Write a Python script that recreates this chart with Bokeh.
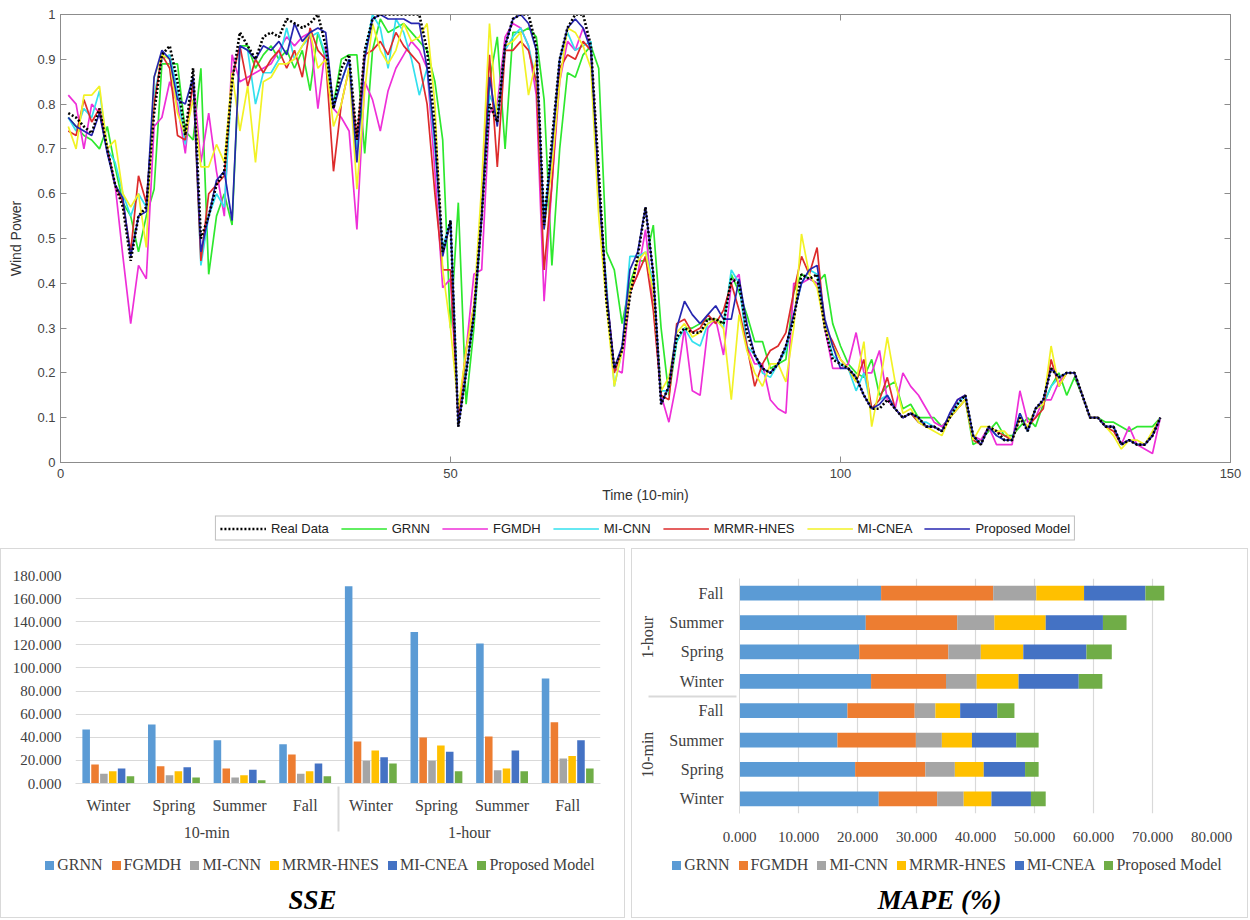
from bokeh.plotting import figure
from bokeh.models import (ColumnDataSource, FactorRange, Legend, LegendItem, LinearAxis, Range1d,
                          FixedTicker, CustomJSTickFormatter, NumeralTickFormatter, Div)
from bokeh.layouts import column, row
from bokeh.embed import file_html
from bokeh.resources import INLINE
from bokeh.transform import dodge

# ---------------- top chart data ----------------
time_idx = list(range(1, 142))

real_data = [
    0.78, 0.77, 0.75, 0.735, 0.79, 0.70, 0.62, 0.57, 0.45, 0.55,
    0.57, 0.78, 0.91, 0.93, 0.85, 0.73, 0.88, 0.50, 0.55, 0.62,
    0.65, 0.85, 0.96, 0.93, 0.90, 0.95, 0.96, 0.95, 0.99, 0.98,
    0.97, 0.98, 1.0, 0.93, 0.79, 0.88, 0.91, 0.72, 0.92, 0.99,
    1.0, 1.0, 1.0, 1.0, 1.0, 1.0, 0.92, 0.75, 0.47, 0.54,
    0.08, 0.20, 0.33, 0.55, 0.80, 0.76, 0.93, 0.99, 1.0, 1.0,
    0.93, 0.53, 0.72, 0.90, 0.97, 1.0, 1.0, 0.93, 0.65, 0.36,
    0.21, 0.25, 0.37, 0.46, 0.57, 0.42, 0.13, 0.17, 0.28, 0.30,
    0.29, 0.29, 0.32, 0.32, 0.31, 0.41, 0.40, 0.29, 0.24, 0.21,
    0.20, 0.22, 0.26, 0.32, 0.42, 0.41, 0.42, 0.30, 0.23, 0.22,
    0.21, 0.19, 0.15, 0.12, 0.12, 0.14, 0.12, 0.10, 0.11, 0.10,
    0.08, 0.08, 0.07, 0.10, 0.13, 0.15, 0.06, 0.04, 0.08, 0.07,
    0.05, 0.05, 0.10, 0.07, 0.12, 0.14, 0.21, 0.19, 0.20, 0.20,
    0.15, 0.10, 0.10, 0.08, 0.08, 0.04, 0.05, 0.04, 0.04, 0.06,
    0.10]

grnn = [
    0.77, 0.75, 0.73, 0.72, 0.70, 0.75, 0.66, 0.58, 0.55, 0.47,
    0.55, 0.61, 0.89, 0.89, 0.89, 0.74, 0.72, 0.88, 0.42, 0.55,
    0.60, 0.53, 0.93, 0.93, 0.88, 0.91, 0.93, 0.90, 0.92, 0.88,
    0.92, 0.83, 0.96, 0.90, 0.80, 0.90, 0.91, 0.91, 0.69, 0.92,
    0.99, 0.96, 0.97, 0.98, 0.96, 0.94, 0.92, 0.85, 0.72, 0.30,
    0.58, 0.13, 0.30, 0.55, 0.85, 0.95, 0.70, 0.96, 0.96, 0.97,
    0.95, 0.81, 0.44, 0.70, 0.87, 0.86, 0.91, 0.93, 0.88, 0.47,
    0.43, 0.31, 0.40, 0.45, 0.45, 0.53, 0.30, 0.15, 0.27, 0.30,
    0.30, 0.31, 0.32, 0.32, 0.31, 0.42, 0.38, 0.33, 0.27, 0.27,
    0.21, 0.22, 0.23, 0.38, 0.42, 0.41, 0.40, 0.42, 0.31, 0.26,
    0.22, 0.20, 0.19, 0.23, 0.15, 0.17, 0.18, 0.12, 0.13, 0.10,
    0.10, 0.10, 0.08, 0.10, 0.12, 0.14, 0.04, 0.05, 0.07, 0.09,
    0.06, 0.06, 0.08, 0.10, 0.08, 0.13, 0.17, 0.20, 0.15, 0.19,
    0.15, 0.10, 0.10, 0.09, 0.09, 0.08, 0.07, 0.08, 0.08, 0.08,
    0.10]

fgmdh = [
    0.82, 0.80, 0.70, 0.80, 0.78, 0.70, 0.62, 0.46, 0.31, 0.44,
    0.41, 0.75, 0.77, 0.85, 0.80, 0.69, 0.86, 0.67, 0.78, 0.65,
    0.55, 0.91, 0.85, 0.86, 0.87, 0.88, 0.89, 0.92, 0.95, 0.93,
    0.95, 0.96, 0.79, 0.93, 0.79, 0.77, 0.74, 0.52, 0.85, 0.81,
    0.74, 0.83, 0.88, 0.91, 0.94, 0.92, 0.88, 0.65, 0.39, 0.41,
    0.10, 0.25, 0.42, 0.43, 0.78, 0.80, 0.95, 0.98, 0.97, 0.93,
    0.82, 0.36, 0.62, 0.85, 0.94, 0.92, 0.97, 0.93, 0.60, 0.38,
    0.21, 0.20, 0.38, 0.42, 0.52, 0.35, 0.15, 0.09, 0.18, 0.30,
    0.16, 0.15, 0.30, 0.32, 0.24, 0.40, 0.42, 0.26, 0.22, 0.22,
    0.14, 0.12, 0.11, 0.40, 0.40, 0.41, 0.40, 0.30, 0.21, 0.21,
    0.22, 0.29, 0.20, 0.20, 0.25, 0.14, 0.12, 0.20, 0.17, 0.15,
    0.12, 0.09, 0.08, 0.10, 0.14, 0.15, 0.06, 0.05, 0.08, 0.04,
    0.04, 0.04, 0.16, 0.09, 0.10, 0.14, 0.14, 0.18, 0.20, 0.20,
    0.15, 0.10, 0.10, 0.08, 0.08, 0.04, 0.08, 0.04, 0.03, 0.02,
    0.10]

mi_cnn = [
    0.77, 0.74, 0.79, 0.77, 0.83, 0.70, 0.67, 0.60, 0.55, 0.60,
    0.57, 0.82, 0.90, 0.91, 0.83, 0.71, 0.86, 0.44, 0.55, 0.60,
    0.57, 0.86, 0.93, 0.92, 0.80, 0.87, 0.87, 0.90, 0.97, 0.90,
    0.93, 0.95, 0.96, 0.91, 0.80, 0.85, 0.90, 0.70, 0.91, 1.0,
    0.97, 0.88, 0.99, 0.96, 0.90, 0.82, 0.88, 0.70, 0.48, 0.54,
    0.09, 0.20, 0.33, 0.55, 0.82, 0.78, 0.92, 0.95, 0.97, 0.93,
    0.85, 0.55, 0.70, 0.90, 0.96, 0.92, 0.93, 0.94, 0.60, 0.40,
    0.17, 0.25, 0.46, 0.46, 0.47, 0.40, 0.16, 0.16, 0.27, 0.30,
    0.27, 0.26, 0.31, 0.32, 0.30, 0.43, 0.40, 0.26, 0.24, 0.20,
    0.19, 0.22, 0.25, 0.33, 0.40, 0.43, 0.42, 0.31, 0.24, 0.22,
    0.21, 0.16, 0.20, 0.12, 0.14, 0.15, 0.12, 0.10, 0.11, 0.09,
    0.09, 0.08, 0.07, 0.10, 0.13, 0.15, 0.06, 0.04, 0.08, 0.06,
    0.05, 0.05, 0.11, 0.07, 0.12, 0.13, 0.17, 0.19, 0.20, 0.20,
    0.15, 0.10, 0.10, 0.08, 0.08, 0.04, 0.05, 0.04, 0.04, 0.06,
    0.10]

mrmr_hnes = [
    0.74, 0.73, 0.81, 0.76, 0.79, 0.70, 0.62, 0.58, 0.47, 0.64,
    0.58, 0.80, 0.91, 0.88, 0.73, 0.72, 0.85, 0.45, 0.60, 0.62,
    0.64, 0.86, 0.93, 0.84, 0.90, 0.87, 0.90, 0.92, 0.88, 0.92,
    0.86, 0.97, 0.92, 0.90, 0.65, 0.80, 0.88, 0.72, 0.91, 0.92,
    0.94, 0.91, 0.96, 0.93, 0.91, 0.89, 0.80, 0.60, 0.43, 0.43,
    0.10, 0.25, 0.35, 0.55, 0.91, 0.66, 0.92, 0.92, 0.94, 0.92,
    0.85, 0.43, 0.62, 0.88, 0.91, 0.90, 0.94, 0.92, 0.62, 0.38,
    0.20, 0.25, 0.38, 0.42, 0.46, 0.34, 0.15, 0.14, 0.31, 0.32,
    0.29, 0.30, 0.33, 0.31, 0.34, 0.40, 0.34, 0.26, 0.17, 0.22,
    0.25, 0.26, 0.29, 0.38, 0.46, 0.42, 0.48, 0.30, 0.27, 0.23,
    0.21, 0.18, 0.23, 0.12, 0.14, 0.19, 0.12, 0.10, 0.11, 0.09,
    0.08, 0.08, 0.07, 0.10, 0.12, 0.14, 0.05, 0.04, 0.08, 0.07,
    0.06, 0.05, 0.10, 0.08, 0.10, 0.12, 0.23, 0.17, 0.20, 0.20,
    0.15, 0.10, 0.10, 0.08, 0.07, 0.04, 0.05, 0.04, 0.04, 0.06,
    0.10]

mi_cnea = [
    0.75, 0.70, 0.82, 0.82, 0.84, 0.70, 0.72, 0.60, 0.57, 0.60,
    0.48, 0.86, 0.91, 0.90, 0.78, 0.73, 0.81, 0.66, 0.66, 0.71,
    0.67, 0.87, 0.74, 0.84, 0.67, 0.85, 0.86, 0.89, 0.89, 0.90,
    0.93, 0.96, 0.88, 0.90, 0.75, 0.80, 0.88, 0.61, 0.83, 0.98,
    0.92, 0.89, 0.92, 0.98, 0.94, 0.95, 0.98, 0.80, 0.43, 0.30,
    0.12, 0.25, 0.35, 0.62, 0.98, 0.76, 0.93, 0.94, 0.96, 0.82,
    0.90, 0.52, 0.66, 0.85, 0.97, 0.96, 0.93, 0.88, 0.55, 0.35,
    0.17, 0.25, 0.38, 0.45, 0.47, 0.38, 0.16, 0.19, 0.29, 0.31,
    0.28, 0.29, 0.31, 0.32, 0.30, 0.14, 0.33, 0.25, 0.20, 0.17,
    0.22, 0.22, 0.18, 0.30, 0.51, 0.42, 0.39, 0.30, 0.26, 0.23,
    0.21, 0.18, 0.27, 0.08, 0.17, 0.28, 0.18, 0.11, 0.12, 0.09,
    0.08, 0.07, 0.06, 0.10, 0.12, 0.14, 0.05, 0.08, 0.08, 0.07,
    0.07, 0.05, 0.10, 0.08, 0.12, 0.13, 0.26, 0.17, 0.20, 0.20,
    0.15, 0.10, 0.10, 0.08, 0.06, 0.03, 0.05, 0.05, 0.04, 0.07,
    0.10]

proposed = [
    0.77, 0.75, 0.74, 0.73, 0.78, 0.69, 0.62, 0.59, 0.46, 0.55,
    0.56, 0.86, 0.92, 0.90, 0.81, 0.80, 0.86, 0.47, 0.55, 0.63,
    0.65, 0.54, 0.93, 0.92, 0.90, 0.93, 0.92, 0.94, 0.91, 0.98,
    0.94, 0.96, 0.97, 0.96, 0.79, 0.85, 0.90, 0.67, 0.90, 0.99,
    1.0, 0.99, 0.99, 0.99, 0.98, 0.98, 0.88, 0.72, 0.46, 0.54,
    0.08, 0.20, 0.33, 0.55, 0.86, 0.75, 0.93, 0.99, 1.0, 0.98,
    0.92, 0.52, 0.70, 0.90, 0.97, 0.99, 0.97, 0.92, 0.62, 0.38,
    0.21, 0.26, 0.43, 0.47, 0.57, 0.42, 0.13, 0.17, 0.30, 0.36,
    0.33, 0.31, 0.33, 0.35, 0.32, 0.32, 0.41, 0.31, 0.24, 0.21,
    0.20, 0.22, 0.26, 0.33, 0.40, 0.43, 0.44, 0.32, 0.26, 0.21,
    0.21, 0.19, 0.15, 0.12, 0.13, 0.15, 0.12, 0.10, 0.11, 0.10,
    0.08, 0.08, 0.07, 0.11, 0.14, 0.15, 0.06, 0.04, 0.08, 0.06,
    0.05, 0.05, 0.11, 0.07, 0.12, 0.14, 0.21, 0.19, 0.20, 0.20,
    0.15, 0.10, 0.10, 0.08, 0.08, 0.04, 0.05, 0.04, 0.04, 0.06,
    0.10]

x_ticks = [0, 50, 100, 150]
y_ticks = [0, 0.1, 0.2, 0.3, 0.4, 0.5, 0.6, 0.7, 0.8, 0.9, 1.0]

# ---------------- bar chart data ----------------
models = ["GRNN", "FGMDH", "MI-CNN", "MRMR-HNES", "MI-CNEA", "Proposed Model"]
bar_colors = ["#5B9BD5", "#ED7D31", "#A5A5A5", "#FFC000", "#4472C4", "#70AD47"]
groups = ["10-min", "1-hour"]
seasons = ["Winter", "Spring", "Summer", "Fall"]

# SSE, order: 10-min Winter..Fall, 1-hour Winter..Fall
sse_grnn = [46.7, 51.0, 37.5, 34.0, 170.8, 131.2, 121.1, 90.9]
sse_fgmdh = [16.4, 15.0, 13.0, 25.0, 36.3, 39.8, 40.7, 53.1]
sse_micnn = [8.4, 7.2, 5.2, 8.4, 19.6, 19.6, 11.5, 21.6]
sse_mrmr = [10.7, 10.7, 7.2, 10.7, 28.6, 32.9, 13.0, 23.9]
sse_micnea = [13.0, 14.1, 11.8, 17.3, 22.8, 27.4, 28.6, 37.5]
sse_proposed = [6.3, 5.2, 2.9, 6.3, 17.3, 10.7, 10.7, 13.0]

# MAPE (%) segments, same order
mape_grnn = [23.6, 19.6, 16.6, 18.3, 22.3, 20.3, 21.4, 24.0]
mape_fgmdh = [9.9, 11.9, 13.3, 11.4, 12.7, 15.1, 15.5, 19.0]
mape_micnn = [4.5, 5.0, 4.4, 3.5, 5.2, 5.5, 6.3, 7.3]
mape_mrmr = [4.7, 4.9, 5.1, 4.2, 7.1, 7.2, 8.7, 8.1]
mape_micnea = [6.7, 7.0, 7.5, 6.3, 10.2, 10.7, 9.7, 10.4]
mape_proposed = [2.5, 2.3, 3.8, 2.9, 4.0, 4.3, 4.0, 3.2]

SANS = "Liberation Sans"
SERIF = "Liberation Serif"

# ================= TOP LINE CHART =================
p = figure(width=1250, height=508, x_range=Range1d(0, 150), y_range=Range1d(0, 1),
           output_backend="svg", toolbar_location=None,
           min_border_left=60, min_border_right=20, min_border_top=14, min_border_bottom=46)
p.outline_line_color = "#8c8c8c"
p.xgrid.visible = False
p.ygrid.visible = False

for ax in (p.xaxis[0], p.yaxis[0]):
    ax.axis_line_color = "#8c8c8c"
    ax.major_tick_line_color = "#8c8c8c"
    ax.major_tick_in = 6
    ax.major_tick_out = 0
    ax.minor_tick_line_color = None
    ax.major_label_text_font = SANS
    ax.major_label_text_font_size = "13px"
    ax.major_label_text_color = "#444444"
    ax.axis_label_text_font = SANS
    ax.axis_label_text_font_size = "14px"
    ax.axis_label_text_font_style = "normal"
    ax.axis_label_text_color = "#333333"

p.xaxis.ticker = FixedTicker(ticks=x_ticks)
p.yaxis.ticker = FixedTicker(ticks=y_ticks)
p.yaxis.formatter = CustomJSTickFormatter(code="return String(Number(tick.toFixed(1)));")
p.xaxis.axis_label = "Time (10-min)"
p.yaxis.axis_label = "Wind Power"
p.xaxis.major_label_standoff = 6
p.xaxis.axis_label_standoff = 6
p.yaxis.axis_label_standoff = 10

blank = CustomJSTickFormatter(code="return '';")
rax = LinearAxis(ticker=FixedTicker(ticks=y_ticks), formatter=blank,
                 major_tick_in=6, major_tick_out=0, axis_line_color="#8c8c8c",
                 major_tick_line_color="#8c8c8c", minor_tick_line_color=None,
                 major_label_standoff=0)
p.add_layout(rax, "right")
tax = LinearAxis(ticker=FixedTicker(ticks=x_ticks), formatter=blank,
                 major_tick_in=6, major_tick_out=0, axis_line_color="#8c8c8c",
                 major_tick_line_color="#8c8c8c", minor_tick_line_color=None,
                 major_label_standoff=0)
p.add_layout(tax, "above")

line_specs = [
    ("GRNN", grnn, "#2ee82e"),
    ("FGMDH", fgmdh, "#ee2fd8"),
    ("MI-CNN", mi_cnn, "#33e0ee"),
    ("MRMR-HNES", mrmr_hnes, "#dd2b2b"),
    ("MI-CNEA", mi_cnea, "#f2f226"),
    ("Proposed Model", proposed, "#2626b0"),
]
for name, vals, col in line_specs:
    p.line(time_idx, vals, line_color=col, line_width=1.7)
p.line(time_idx, real_data, line_color="black", line_width=2.6, line_dash="2 2")

# legend strip below the line chart: same series, ranges set so only the legend keys show
pl = figure(width=1250, height=40, x_range=Range1d(1000, 1001), y_range=Range1d(1000, 1001),
            x_axis_type=None, y_axis_type=None, output_backend="svg", toolbar_location=None,
            min_border=0)
pl.outline_line_color = None
pl.grid.visible = False
key_specs = [("Real Data", real_data, "black", 2.6, "2 2")] + \
            [(n, v, c, 1.7, "solid") for n, v, c in line_specs]
top_items = []
for name, vals, col, w, dash in key_specs:
    r = pl.line(time_idx, vals, line_color=col, line_width=w, line_dash=dash)
    top_items.append(LegendItem(label=name, renderers=[r]))
top_legend = Legend(items=top_items, orientation="horizontal", location="center",
                    border_line_color="#7f7f7f", border_line_width=1,
                    label_text_font=SANS, label_text_font_size="13px",
                    label_text_color="#222222", glyph_width=46, glyph_height=14,
                    label_standoff=5, spacing=12, padding=4, margin=0, label_height=14)
pl.add_layout(top_legend)

# ================= SSE GROUPED BARS =================
factors = [(g, s) for g in groups for s in seasons]
sse_src = ColumnDataSource(dict(x=factors, GRNN=sse_grnn, FGMDH=sse_fgmdh, MICNN=sse_micnn,
                                MRMR=sse_mrmr, MICNEA=sse_micnea, PROP=sse_proposed))
sse_cols = ["GRNN", "FGMDH", "MICNN", "MRMR", "MICNEA", "PROP"]

ps = figure(width=623, height=300, x_range=FactorRange(*factors, group_padding=0, range_padding=0),
            y_range=Range1d(0, 180), output_backend="svg", toolbar_location=None,
            min_border_left=74, min_border_right=24, min_border_top=26, min_border_bottom=66)
ps.outline_line_color = None
ps.xgrid.visible = False
ps.ygrid.grid_line_color = "#d9d9d9"
ps.ygrid.grid_line_width = 1.2
ps.yaxis.ticker = FixedTicker(ticks=list(range(0, 181, 20)))
ps.yaxis.formatter = NumeralTickFormatter(format="0.000")
ps.yaxis.axis_line_color = None
ps.yaxis.major_tick_line_color = None
ps.yaxis.minor_tick_line_color = None
ps.yaxis.major_label_text_font = SERIF
ps.yaxis.major_label_text_font_size = "15px"
ps.yaxis.major_label_text_color = "#404040"
ps.yaxis.major_label_standoff = 8
ps.xaxis.axis_line_color = "#d9d9d9"
ps.xaxis.major_tick_line_color = None
ps.xaxis.major_label_text_font = SERIF
ps.xaxis.major_label_text_font_size = "16px"
ps.xaxis.major_label_text_color = "#404040"
ps.xaxis.group_text_font = SERIF
ps.xaxis.group_text_font_size = "16px"
ps.xaxis.group_text_color = "#404040"
ps.xaxis.group_text_font_style = "normal"
ps.xaxis.separator_line_color = "#d9d9d9"
ps.xaxis.major_label_standoff = 7

offsets = [-0.3375, -0.2025, -0.0675, 0.0675, 0.2025, 0.3375]
for col, off, c in zip(sse_cols, offsets, bar_colors):
    ps.vbar(x=dodge("x", off, range=ps.x_range), top=col, width=0.115, source=sse_src,
            fill_color=c, line_color=None)


def legend_div(width):
    parts = []
    for m, c in zip(models, bar_colors):
        parts.append('<span style="display:inline-block;width:9px;height:9px;background:%s;'
                     'vertical-align:middle;margin-right:3px;position:relative;top:-1px;"></span>'
                     '<span style="margin-right:9px;">%s</span>' % (c, m))
    return Div(text="".join(parts), width=width, height=32, margin=0,
               styles={"text-align": "center", "font-family": SERIF, "font-size": "16px",
                       "color": "#404040", "line-height": "32px", "white-space": "nowrap",
                       "text-indent": "24px"})


def title_div(text, width):
    return Div(text=text, width=width, height=36, margin=0,
               styles={"text-align": "center", "font-family": SERIF, "font-size": "27px",
                       "font-weight": "bold", "font-style": "italic", "color": "#000000",
                       "line-height": "38px"})


sse_panel = column(ps, legend_div(623), title_div("SSE", 623), spacing=0,
                   styles={"border": "1px solid #d9d9d9"})

# ================= MAPE STACKED HBARS =================
yfactors = [(g, s) for g in groups for s in seasons]
mape_src = ColumnDataSource(dict(y=yfactors, GRNN=mape_grnn, FGMDH=mape_fgmdh, MICNN=mape_micnn,
                                 MRMR=mape_mrmr, MICNEA=mape_micnea, PROP=mape_proposed))
pm = figure(width=615, height=300, y_range=FactorRange(*yfactors, group_padding=0, range_padding=0),
            x_range=Range1d(0, 80), output_backend="svg", toolbar_location=None,
            min_border_left=107, min_border_right=36, min_border_top=29, min_border_bottom=36)
pm.outline_line_color = None
pm.ygrid.visible = False
pm.xgrid.grid_line_color = "#d9d9d9"
pm.xgrid.grid_line_width = 1.2
pm.xaxis.ticker = FixedTicker(ticks=list(range(0, 81, 10)))
pm.xaxis.formatter = NumeralTickFormatter(format="0.000")
pm.xaxis.axis_line_color = None
pm.xaxis.major_tick_line_color = None
pm.xaxis.minor_tick_line_color = None
pm.xaxis.major_label_text_font = SERIF
pm.xaxis.major_label_text_font_size = "15px"
pm.xaxis.major_label_text_color = "#404040"
pm.xaxis.major_label_standoff = 12
pm.yaxis.axis_line_color = "#d9d9d9"
pm.yaxis.major_tick_line_color = None
pm.yaxis.major_label_text_font = SERIF
pm.yaxis.major_label_text_font_size = "16px"
pm.yaxis.major_label_text_color = "#404040"
pm.yaxis.group_text_font = SERIF
pm.yaxis.group_text_font_size = "16px"
pm.yaxis.group_text_color = "#404040"
pm.yaxis.group_text_font_style = "normal"
pm.yaxis.separator_line_color = "#d9d9d9"
pm.yaxis.major_label_standoff = 10

pm.hbar_stack(sse_cols, y="y", height=0.5, color=bar_colors, source=mape_src, line_color=None)

mape_panel = column(pm, legend_div(615), title_div("MAPE (%)", 615), spacing=0,
                    styles={"border": "1px solid #d9d9d9"})

layout = column(p, pl, row(sse_panel, mape_panel, spacing=6), spacing=0)
open("out.html", "w").write(file_html(layout, INLINE))
